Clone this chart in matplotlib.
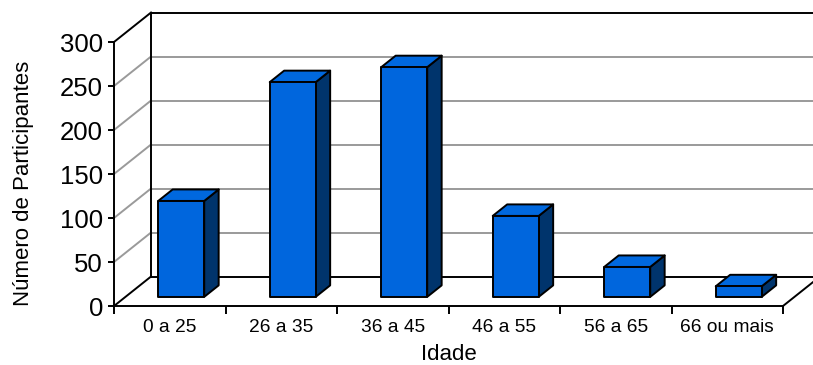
import matplotlib
matplotlib.use("Agg")
import matplotlib.pyplot as plt
from matplotlib.patches import Polygon

# Age groups and number of participants
categories = ["0 a 25", "26 a 35", "36 a 45", "46 a 55", "56 a 65", "66 ou mais"]
participants = [109, 244, 261, 92, 34, 12]
y_ticks = [0, 50, 100, 150, 200, 250, 300]

plt.rcParams["font.family"] = ["Liberation Sans", "DejaVu Sans"]

W, H = 813, 365
fig = plt.figure(figsize=(W / 100, H / 100), dpi=100)
# front plane of the 3-D box
ax = fig.add_axes([114 / W, 59 / H, 669 / W, 264 / H])
ncat = len(categories)
ymax = y_ticks[-1]
ax.set_xlim(0, ncat)
ax.set_ylim(0, ymax)

# oblique depth offset (data units for full depth)
DX = 0.332
DY = 33.5

LW = 1.4
GRID = "#9a9a9a"
kw = dict(clip_on=False)

# back wall
ax.add_patch(Polygon([(DX, DY), (ncat + DX, DY), (ncat + DX, ymax + DY), (DX, ymax + DY)],
                     closed=True, facecolor="white", edgecolor="none", zorder=0, **kw))

# gridlines on back wall and left wall
for v in y_ticks[1:-1]:
    ax.plot([DX, ncat + DX], [v + DY, v + DY], color=GRID, lw=LW, zorder=1, **kw)
    ax.plot([0, DX], [v, v + DY], color=GRID, lw=LW, zorder=1, **kw)

# box frame
frame = [
    ([DX, ncat + DX], [DY, DY]),                 # back floor edge
    ([DX, ncat + DX], [ymax + DY, ymax + DY]),   # back top edge
    ([DX, DX], [DY, ymax + DY]),                 # back left edge
    ([0, DX], [0, DY]),                          # floor left diagonal
    ([ncat, ncat + DX], [0, DY]),                # floor right diagonal
    ([0, DX], [ymax, ymax + DY]),                # top left diagonal
]
for xs, ys in frame:
    ax.plot(xs, ys, color="black", lw=LW, zorder=2, **kw)

# 3-D bars
FRONT = "#0066dd"
SIDE = "#00346c"
TOP = "#0068de"
d0, t = 0.31, 0.39
bw = 0.4126
for i, v in enumerate(participants):
    x0 = i + 0.5 - bw / 2 + d0 * DX
    y0 = d0 * DY
    x1 = x0 + bw
    ox, oy = t * DX, t * DY
    front = [(x0, y0), (x1, y0), (x1, y0 + v), (x0, y0 + v)]
    side = [(x1, y0), (x1 + ox, y0 + oy), (x1 + ox, y0 + v + oy), (x1, y0 + v)]
    top = [(x0, y0 + v), (x1, y0 + v), (x1 + ox, y0 + v + oy), (x0 + ox, y0 + v + oy)]
    for pts, col in ((side, SIDE), (top, TOP), (front, FRONT)):
        ax.add_patch(Polygon(pts, closed=True, facecolor=col, edgecolor="black",
                             lw=LW, joinstyle="round", zorder=3, **kw))

# axes: left spine and floor front edge
for s in ("top", "right"):
    ax.spines[s].set_visible(False)
for s in ("left", "bottom"):
    ax.spines[s].set_linewidth(LW)
    ax.spines[s].set_zorder(2)
ax.patch.set_alpha(0)

ax.set_yticks(y_ticks)
ax.tick_params(axis="y", direction="out", length=4, width=LW, labelsize=18.5, pad=4)
ax.set_xticks(range(ncat + 1))
ax.set_xticklabels([])
ax.set_xticks([i + 0.5 for i in range(ncat)], minor=True)
ax.set_xticklabels(categories, minor=True)
ax.tick_params(axis="x", which="major", direction="out", length=6, width=LW)
ax.tick_params(axis="x", which="minor", length=0, labelsize=13.8, pad=9)

ax.set_ylabel("Número de Participantes", fontsize=16)
ax.yaxis.set_label_coords(-0.12, 0.466)
ax.set_xlabel("Idade", fontsize=16)
ax.xaxis.set_label_coords(0.5, -0.145)

fig.savefig("out.png", dpi=100)
